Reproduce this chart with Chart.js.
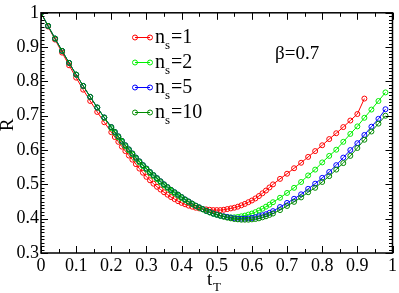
<!DOCTYPE html>
<html>
<head>
<meta charset="utf-8">
<script src="https://cdn.jsdelivr.net/npm/chart.js@4.4.1/dist/chart.umd.min.js"></script>
<style>
  body { margin: 0; background: #fff; }
  #wrap { width: 399px; height: 293px; }
</style>
</head>
<body>
<div id="wrap"><canvas id="rChart" width="399" height="293"></canvas></div>
<script>
// t_T grid of the curves (finer in the middle, as in the picture)
const tValues = [0, 0.02, 0.04, 0.06, 0.08, 0.10, 0.12, 0.14, 0.16, 0.18,
  0.20, 0.21, 0.22, 0.23, 0.24, 0.25, 0.26, 0.27, 0.28, 0.29,
  0.30, 0.31, 0.32, 0.33, 0.34, 0.35, 0.36, 0.37, 0.38, 0.39,
  0.40, 0.41, 0.42, 0.43, 0.44, 0.45, 0.46, 0.47, 0.48, 0.49,
  0.50, 0.51, 0.52, 0.53, 0.54, 0.55, 0.56, 0.57, 0.58, 0.59,
  0.60, 0.61, 0.62, 0.63, 0.64, 0.65, 0.66,
  0.68, 0.70, 0.72, 0.74, 0.76, 0.78, 0.80, 0.82, 0.84, 0.86, 0.88, 0.90, 0.92, 0.94, 0.96, 0.98];

// R for each n_s (n_s=1 stops at t_T=0.92)
const rNs1 = [1.000, 0.960, 0.922, 0.884, 0.847, 0.811, 0.776, 0.743, 0.711, 0.681,
  0.652, 0.638, 0.624, 0.610, 0.597, 0.584, 0.572, 0.559, 0.546, 0.534,
  0.522, 0.512, 0.502, 0.493, 0.485, 0.477, 0.470, 0.463, 0.457, 0.451,
  0.446, 0.442, 0.438, 0.435, 0.432, 0.430, 0.428, 0.427, 0.426, 0.425,
  0.425, 0.425, 0.426, 0.428, 0.430, 0.432, 0.435, 0.439, 0.443, 0.448,
  0.453, 0.459, 0.466, 0.474, 0.482, 0.491, 0.500,
  0.516, 0.531, 0.547, 0.563, 0.580, 0.597, 0.614, 0.632, 0.649, 0.667, 0.686, 0.705, 0.750];

const rNs2 = [1.000, 0.962, 0.925, 0.889, 0.854, 0.820, 0.787, 0.755, 0.724, 0.694,
  0.664, 0.650, 0.637, 0.624, 0.611, 0.599, 0.587, 0.575, 0.564, 0.553,
  0.543, 0.533, 0.524, 0.515, 0.506, 0.497, 0.489, 0.481, 0.474, 0.467,
  0.460, 0.454, 0.448, 0.442, 0.437, 0.432, 0.427, 0.422, 0.418, 0.414,
  0.411, 0.408, 0.406, 0.405, 0.404, 0.404, 0.405, 0.407, 0.409, 0.412,
  0.415, 0.419, 0.424, 0.429, 0.435, 0.441, 0.448,
  0.461, 0.475, 0.490, 0.507, 0.526, 0.543, 0.564, 0.583, 0.601, 0.624, 0.647, 0.669, 0.694, 0.718, 0.743, 0.768];

const rNs5 = [1.000, 0.962, 0.925, 0.889, 0.854, 0.820, 0.787, 0.755, 0.724, 0.695,
  0.667, 0.653, 0.640, 0.627, 0.614, 0.602, 0.590, 0.578, 0.567, 0.556,
  0.546, 0.536, 0.527, 0.518, 0.509, 0.500, 0.492, 0.484, 0.477, 0.470,
  0.463, 0.456, 0.450, 0.444, 0.438, 0.433, 0.428, 0.423, 0.419, 0.415,
  0.412, 0.409, 0.407, 0.405, 0.403, 0.401, 0.400, 0.400, 0.400, 0.401,
  0.402, 0.404, 0.407, 0.410, 0.413, 0.417, 0.422,
  0.434, 0.446, 0.458, 0.471, 0.487, 0.502, 0.519, 0.536, 0.556, 0.578, 0.600, 0.620, 0.644, 0.668, 0.691, 0.719];

const rNs10 = [1.000, 0.962, 0.925, 0.889, 0.854, 0.820, 0.787, 0.755, 0.724, 0.695,
  0.667, 0.653, 0.640, 0.627, 0.614, 0.602, 0.590, 0.578, 0.567, 0.556,
  0.546, 0.536, 0.527, 0.518, 0.509, 0.500, 0.492, 0.484, 0.477, 0.470,
  0.463, 0.456, 0.450, 0.444, 0.438, 0.433, 0.428, 0.423, 0.419, 0.415,
  0.412, 0.409, 0.406, 0.403, 0.401, 0.399, 0.398, 0.397, 0.397, 0.397,
  0.398, 0.399, 0.401, 0.404, 0.407, 0.411, 0.415,
  0.425, 0.437, 0.449, 0.462, 0.477, 0.490, 0.507, 0.524, 0.543, 0.562, 0.583, 0.606, 0.630, 0.654, 0.677, 0.700];

const seriesNames = ['1', '2', '5', '10'];
const seriesValues = [rNs1, rNs2, rNs5, rNs10];
const seriesColors = ['rgb(255,0,0)', 'rgb(0,240,0)', 'rgb(0,0,255)', 'rgb(0,139,0)'];

const xTicks = [0, 0.1, 0.2, 0.3, 0.4, 0.5, 0.6, 0.7, 0.8, 0.9, 1];
const yTicks = [0.3, 0.4, 0.5, 0.6, 0.7, 0.8, 0.9, 1];

const serif = "'Liberation Serif', 'Times New Roman', serif";

function fmt(v) {
  const r = Math.round(v * 10) / 10;
  if (r === 0) return '0';
  if (r === 1) return '1';
  return r.toFixed(1);
}

// inward ticks, frame, axis titles, legend and annotation
const decorations = {
  id: 'decorations',
  afterDatasetsDraw(chart) {
    const { ctx, chartArea: a, scales: { x, y } } = chart;
    ctx.save();

    ctx.strokeStyle = '#000';
    ctx.lineWidth = 1;
    ctx.beginPath();
    for (let i = 0; i <= 20; i++) {
      const px = Math.round(x.getPixelForValue(i * 0.05)) + 0.5;
      const len = i % 2 === 0 ? 7 : 4;
      ctx.moveTo(px, a.bottom); ctx.lineTo(px, a.bottom - len);
      ctx.moveTo(px, a.top); ctx.lineTo(px, a.top + len);
    }
    for (let i = 0; i <= 70; i++) {
      const py = Math.round(y.getPixelForValue(0.3 + i * 0.01)) + 0.5;
      const len = i % 10 === 0 ? 7 : 3.5;
      ctx.moveTo(a.left, py); ctx.lineTo(a.left + len, py);
      ctx.moveTo(a.right, py); ctx.lineTo(a.right - len, py);
    }
    ctx.stroke();

    ctx.lineWidth = 1.5;
    ctx.strokeRect(a.left, a.top, a.right - a.left, a.bottom - a.top);

    ctx.fillStyle = '#000';
    ctx.textBaseline = 'alphabetic';

    // y title
    ctx.save();
    ctx.translate(13, 125);
    ctx.rotate(-Math.PI / 2);
    ctx.font = '19px ' + serif;
    ctx.textAlign = 'center';
    ctx.fillText('R', 0, 0);
    ctx.restore();

    // x title t_T
    ctx.textAlign = 'left';
    ctx.font = '19px ' + serif;
    ctx.fillText('t', 207, 285);
    ctx.font = '13px ' + serif;
    ctx.fillText('T', 213, 291);

    // beta
    ctx.font = '19px ' + serif;
    ctx.fillText('\u03b2=0.7', 275, 59);

    // legend
    const rows = [37.5, 62.5, 87.5, 112.5];
    seriesNames.forEach((name, i) => {
      const ly = rows[i];
      ctx.strokeStyle = seriesColors[i];
      ctx.lineWidth = 1;
      ctx.beginPath();
      ctx.moveTo(135, ly); ctx.lineTo(150, ly);
      ctx.stroke();
      [135, 150].forEach(cx => {
        ctx.beginPath();
        ctx.arc(cx, ly, 2.5, 0, Math.PI * 2);
        ctx.stroke();
      });
      ctx.fillStyle = '#000';
      ctx.font = '20px ' + serif;
      ctx.fillText('n', 155, ly + 5);
      const nw = ctx.measureText('n').width;
      ctx.font = '13px ' + serif;
      ctx.fillText('s', 155 + nw, ly + 11);
      const sw = ctx.measureText('s').width;
      ctx.font = '20px ' + serif;
      ctx.fillText('=' + name, 155 + nw + sw + 1, ly + 5);
    });

    ctx.restore();
  }
};

function drawChart() {
  const datasets = seriesValues.map((vals, i) => ({
    label: 'n_s=' + seriesNames[i],
    data: vals.map((r, k) => ({ x: tValues[k], y: r })),
    borderColor: seriesColors[i],
    backgroundColor: 'rgba(0,0,0,0)',
    borderWidth: 1,
    pointRadius: 2.5,
    pointBorderWidth: 1,
    pointBackgroundColor: 'rgba(0,0,0,0)',
    pointBorderColor: seriesColors[i],
    tension: 0,
    fill: false,
    order: 4 - i
  }));

  new Chart(document.getElementById('rChart').getContext('2d'), {
    type: 'line',
    data: { datasets: datasets },
    options: {
      responsive: false,
      animation: false,
      devicePixelRatio: 1,
      layout: { padding: { top: 6, right: 5, left: 0, bottom: 0 } },
      plugins: { legend: { display: false }, tooltip: { enabled: false } },
      scales: {
        x: {
          type: 'linear',
          min: 0,
          max: 1,
          afterFit: s => { s.height = 40; },
          afterBuildTicks: s => { s.ticks = xTicks.map(v => ({ value: v })); },
          grid: { display: false, drawTicks: false },
          border: { display: false },
          ticks: {
            color: '#000',
            padding: 2,
            maxRotation: 0,
            autoSkip: false,
            font: { family: serif, size: 18 },
            callback: v => fmt(v)
          }
        },
        y: {
          type: 'linear',
          min: 0.3,
          max: 1,
          afterFit: s => { s.width = 41; },
          afterBuildTicks: s => { s.ticks = yTicks.map(v => ({ value: v })); },
          grid: { display: false, drawTicks: false },
          border: { display: false },
          ticks: {
            color: '#000',
            padding: 2,
            autoSkip: false,
            font: { family: serif, size: 18 },
            callback: v => fmt(v)
          }
        }
      }
    },
    plugins: [decorations]
  });
}

if (document.fonts && document.fonts.load) {
  document.fonts.load('18px "Liberation Serif"').then(drawChart, drawChart);
} else {
  drawChart();
}
</script>
</body>
</html>
